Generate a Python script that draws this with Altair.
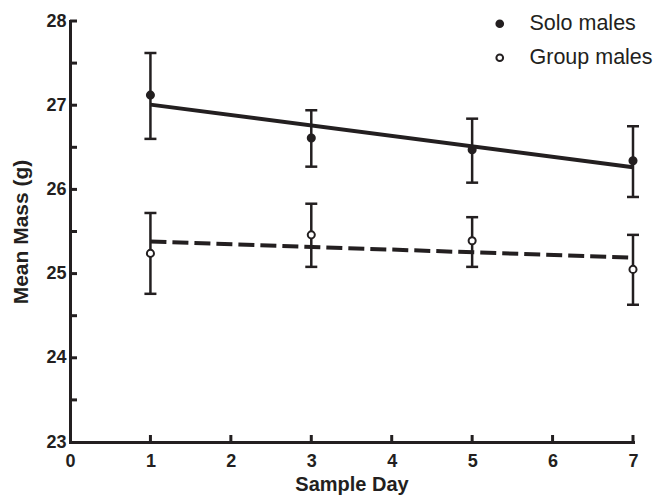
import altair as alt
import pandas as pd

INK = "#231f20"
FONT = "Liberation Sans"

days = [1, 3, 5, 7]
series_names = ["Solo males", "Group males"]
solo_mean = [27.12, 26.61, 26.47, 26.34]
solo_low = [26.60, 26.27, 26.08, 25.91]
solo_high = [27.62, 26.94, 26.84, 26.75]
group_mean = [25.24, 25.46, 25.39, 25.05]
group_low = [24.76, 25.08, 25.08, 24.63]
group_high = [25.72, 25.83, 25.67, 25.46]

x_labels = [0, 1, 2, 3, 4, 5, 6, 7]
x_ticks = [1, 2, 3, 4, 5, 6, 7]
y_labels = [23, 24, 25, 26, 27, 28]
y_ticks = [23.5, 24, 24.5, 25, 25.5, 26, 26.5, 27, 27.5, 28]

rows = []
for name, m, lo, hi in [("Solo males", solo_mean, solo_low, solo_high),
                        ("Group males", group_mean, group_low, group_high)]:
    for d, a, b, c in zip(days, m, lo, hi):
        rows.append({"day": d, "mean": a, "low": b, "high": c, "series": name})
df = pd.DataFrame(rows)

W, H = 563, 421
xs = alt.Scale(domain=[0, 7], nice=False, zero=False)
ys = alt.Scale(domain=[23, 28], nice=False, zero=False)

x_axis = alt.Axis(values=x_labels, format="d", ticks=False, grid=False,
                  domainWidth=3, domainColor=INK, domainCap="square",
                  labelFont=FONT, labelFontWeight="bold", labelFontSize=18,
                  labelColor=INK, labelPadding=10, labelFlush=False,
                  title="Sample Day", titleFont=FONT, titleFontWeight="bold",
                  titleFontSize=20, titleColor=INK, titlePadding=4)
y_axis = alt.Axis(values=y_labels, format="d", ticks=False, grid=False,
                  domainWidth=3, domainColor=INK, domainCap="square",
                  labelFont=FONT, labelFontWeight="bold", labelFontSize=18,
                  labelColor=INK, labelPadding=4, labelFlush=False,
                  title="Mean Mass (g)", titleFont=FONT, titleFontWeight="bold",
                  titleFontSize=21, titleColor=INK, titlePadding=14)

def X(field):
    return alt.X(field, type="quantitative", scale=xs, axis=x_axis)

def Y(field):
    return alt.Y(field, type="quantitative", scale=ys, axis=y_axis)

base = alt.Chart(df)

reg_solo = base.transform_filter(alt.datum.series == "Solo males").transform_regression(
    "day", "mean"
).mark_line(strokeWidth=4, color=INK).encode(x=X("day"), y=Y("mean"))

reg_group = base.transform_filter(alt.datum.series == "Group males").transform_regression(
    "day", "mean"
).mark_line(strokeWidth=4, color=INK, strokeDash=[16, 6]).encode(x=X("day"), y=Y("mean"))

bars = base.mark_rule(strokeWidth=2.5, color=INK).encode(
    x=X("day"), y=Y("low"), y2="high")
cap_lo = base.mark_tick(orient="horizontal", size=12, thickness=2.5, color=INK, opacity=1).encode(
    x=X("day"), y=Y("low"))
cap_hi = base.mark_tick(orient="horizontal", size=12, thickness=2.5, color=INK, opacity=1).encode(
    x=X("day"), y=Y("high"))

pts = base.mark_point(shape="circle", filled=True, opacity=1, stroke=INK, strokeWidth=2, size=50).encode(
    x=X("day"), y=Y("mean"),
    fill=alt.Fill("series:N",
                  scale=alt.Scale(domain=series_names, range=[INK, "white"]),
                  legend=alt.Legend(title=None, orient="none", legendX=419, legendY=-8,
                                    padding=0, labelFont=FONT, labelFontSize=21.5,
                                    labelColor=INK, symbolType="circle", symbolSize=45,
                                    symbolStrokeColor=INK, symbolStrokeWidth=2,
                                    symbolOpacity=1, rowPadding=11, labelOffset=19,
                                    labelLimit=300)),
)

xt = alt.Chart(pd.DataFrame({"t": x_ticks})).mark_rule(strokeWidth=3, color=INK).encode(
    x=X("t"), y=alt.value(H), y2=alt.value(H - 7))
yt = alt.Chart(pd.DataFrame({"t": y_ticks})).mark_rule(strokeWidth=3, color=INK).encode(
    y=Y("t"), x=alt.value(0), x2=alt.value(7))

chart = alt.layer(reg_solo, reg_group, bars, cap_lo, cap_hi, pts, xt, yt).properties(
    width=W, height=H,
    autosize=alt.AutoSizeParams(type="none"),
    padding={"left": 62, "top": 13, "right": 20, "bottom": 54},
    background="white",
).configure_view(stroke=None)

chart.save("out.html", embed_options={"renderer": "svg", "actions": False})
